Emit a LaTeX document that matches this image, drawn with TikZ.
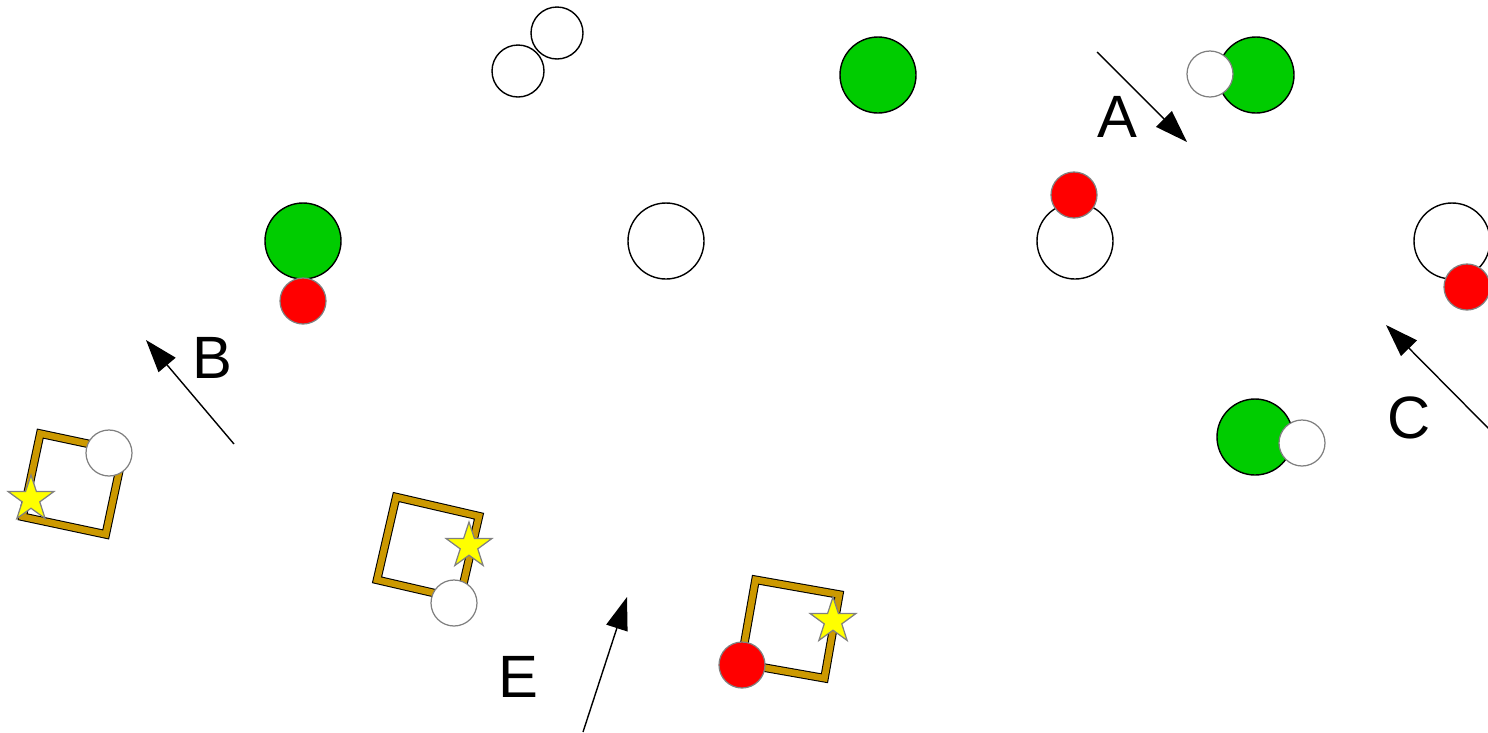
\documentclass[tikz,border=0pt]{standalone}
\usepackage{fontspec}
\setmainfont{Liberation Sans}
\usetikzlibrary{arrows.meta,shapes.geometric}
\definecolor{gruen}{HTML}{00CC00}
\definecolor{rot}{HTML}{FF0000}
\definecolor{gelb}{HTML}{FFFF00}
\definecolor{ocker}{HTML}{CC9900}
\definecolor{rand}{HTML}{808080}
\tikzset{
  gross/.style={circle,draw=black,line width=0.4pt,minimum size=7.6mm,inner sep=0pt},
  klein/.style={circle,draw=rand,line width=0.35pt,minimum size=4.6mm,inner sep=0pt},
  mini/.style={circle,draw=black,line width=0.4pt,minimum size=5.2mm,inner sep=0pt},
  rahmen/.style={rectangle,draw=black,line width=0.3pt,double=ocker,double distance=0.65mm,minimum size=8.5mm,inner sep=0pt},
  stern/.style={star,star points=5,star point ratio=2.6,fill=gelb,draw=rand,line width=0.35pt,minimum size=4.8mm,inner sep=0pt},
  pfeil/.style={-{Triangle[length=9.3pt,width=6.3pt]},black,line width=0.4pt},
  marke/.style={font=\fontsize{17}{20}\selectfont,inner sep=0pt},
}
\begin{document}
\begin{tikzpicture}[x=0.1mm,y=-0.1mm]
  \useasboundingbox (0,0) rectangle (1488,732);
  \node[mini] (w1) at (518,71) {};
  \node[mini] (w2) at (557,33) {};
  \node[gross,fill=gruen] (g1) at (878,75) {};
  \node[gross,fill=gruen] (g2) at (1256,75) {};
  \node[klein,fill=white] (k1) at (1210,74) {};
  \node[gross,fill=gruen] (g3) at (303,241) {};
  \node[klein,fill=rot] (r1) at (303,301) {};
  \node[gross,fill=white] (w3) at (666,241) {};
  \node[gross,fill=white] (w4) at (1075,241) {};
  \node[klein,fill=rot] (r2) at (1074,195) {};
  \node[gross,fill=white] (w5) at (1452,241) {};
  \node[klein,fill=rot] (r3) at (1467,287) {};
  \node[gross,fill=gruen] (g4) at (1255,437) {};
  \node[klein,fill=white] (k2) at (1302,443) {};

  \node[rahmen,rotate=-12] (q1) at (73,484) {};
  \node[stern] (s1) at (31,499) {};
  \node[klein,fill=white] (k3) at (109,453) {};
  \node[rahmen,rotate=-13] (q2) at (428,548) {};
  \node[stern] (s2) at (469,546) {};
  \node[klein,fill=white] (k4) at (454,603) {};
  \node[rahmen,rotate=-10] (q3) at (790,629) {};
  \node[stern] (s3) at (833,621) {};
  \node[klein,fill=rot] (r4) at (742,665) {};

  \coordinate (a0) at (1097,52);
  \coordinate (a1) at (1187,142);
  \draw[pfeil] (a0) -- (a1);
  \node[marke] (la) at (1117,117) {A};
  \coordinate (b0) at (234,444);
  \coordinate (b1) at (146,340);
  \draw[pfeil] (b0) -- (b1);
  \node[marke] (lb) at (212,358) {B};
  \coordinate (c0) at (1490,430);
  \coordinate (c1) at (1386,325);
  \draw[pfeil] (c0) -- (c1);
  \node[marke] (lc) at (1409,418) {C};
  \coordinate (e0) at (583,732);
  \coordinate (e1) at (627,597);
  \draw[pfeil] (e0) -- (e1);
  \node[marke] (le) at (518,677) {E};
\end{tikzpicture}
\end{document}
